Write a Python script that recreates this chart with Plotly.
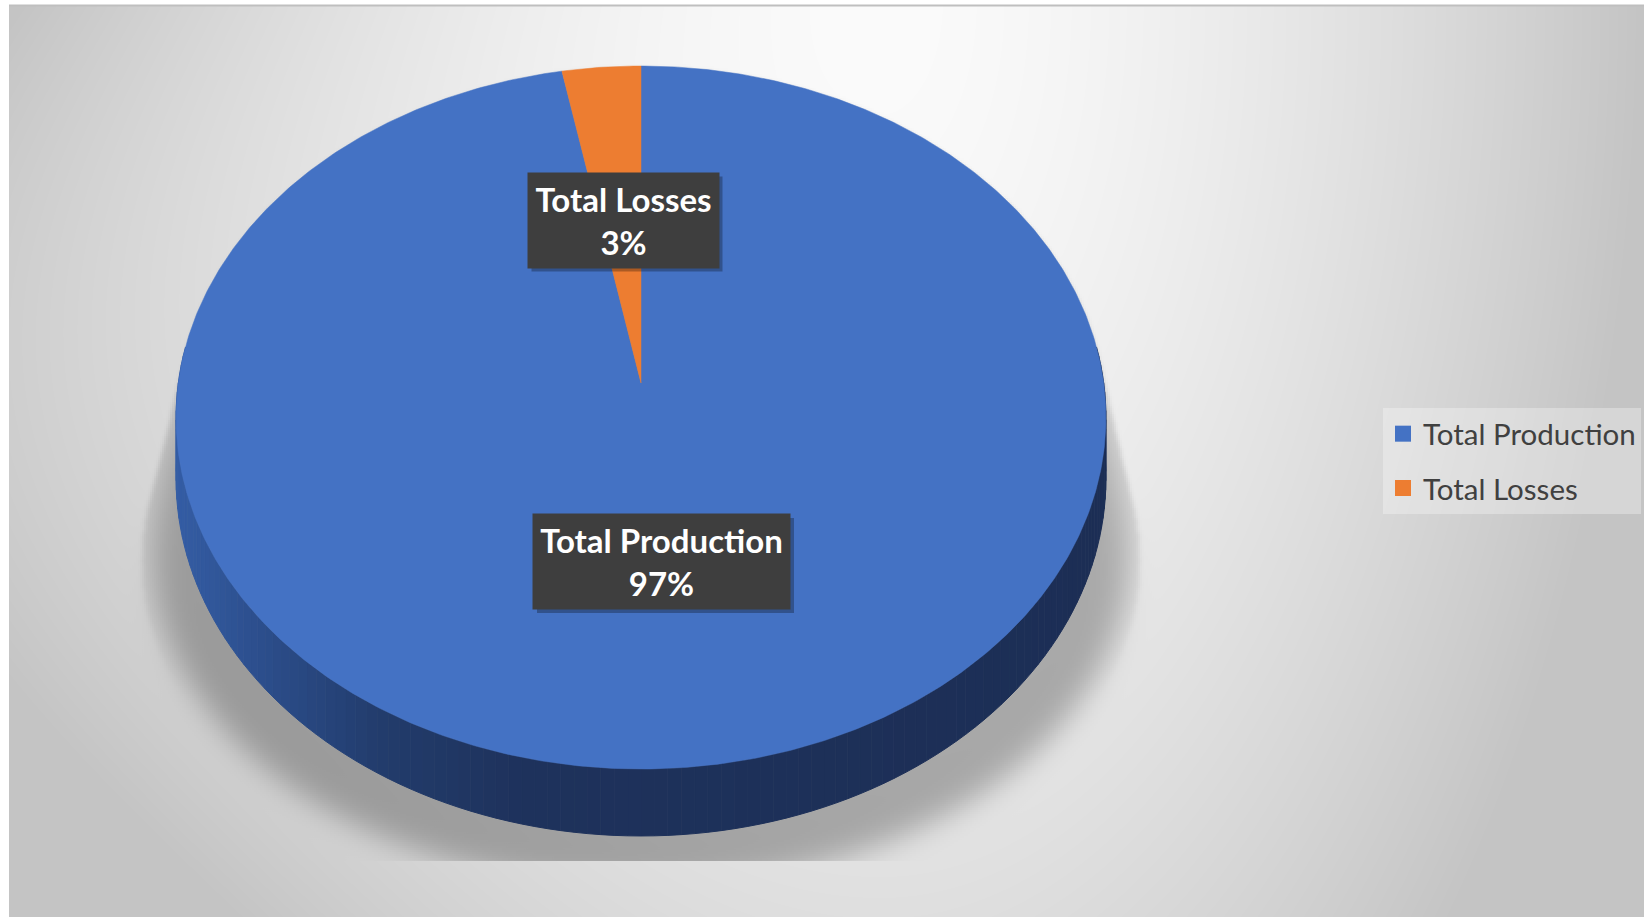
import base64
import struct
import zlib

import numpy as np
import plotly.graph_objects as go

# ---- data -------------------------------------------------------------
categories = ["Total Production", "Total Losses"]
shares = [97, 3]                       # percent of the total
slice_colors = ["#4472C4", "#ED7D31"]

W, H = 1644, 917

# ---- 3-D pie geometry (pixel space) ------------------------------------
X0, Y0 = 641.0, 383.0        # projected pie centre (apex of wedges)
A, B, P = 348.1, 462.7, 0.0982   # vertical / horizontal radius, perspective
D0 = 60.4                    # thickness of the pie


def proj(phi_deg, r=1.0, drop=0.0):
    """Project a point on the tilted disc; phi measured clockwise from 12 o'clock."""
    phi = np.radians(phi_deg)
    u, v = r * np.sin(phi), r * np.cos(phi)
    s = 1.0 / (1.0 + P * v)
    return X0 + B * u * s, Y0 - A * v * s + drop * D0 * s


# ---- background: soft gradient plus cast shadow -----------------------
def box(a, r, axis):
    pad = [(r + 1, r) if k == axis else (0, 0) for k in range(2)]
    c = np.cumsum(np.pad(a, pad, mode="edge"), axis=axis)
    if axis == 0:
        return (c[2 * r + 1:] - c[:-2 * r - 1]) / (2 * r + 1)
    return (c[:, 2 * r + 1:] - c[:, :-2 * r - 1]) / (2 * r + 1)


def blur(a, r, passes):
    for _ in range(passes):
        a = box(box(a, r, 0), r, 1)
    return a


def background():
    yy, xx = np.mgrid[0:H, 0:W].astype(float)
    fx = 880.0
    sx_left = 860.0 + 200.0 * np.sin(np.pi * np.clip(yy / H, 0, 1))
    sx = np.where(xx < fx, sx_left, 764.0)
    t = np.sqrt(((xx - fx) / sx) ** 2 + (yy / 1400.0) ** 2)
    g = 251.0 - 55.0 * np.clip(t, 0, 1) ** 1.6

    # shadow mask on a half-resolution grid
    f = 2
    gy, gx = np.mgrid[0:H:f, 0:W:f].astype(float)
    ang = np.linspace(0, 360, 181)
    pts = [np.column_stack(proj(ang)), np.column_stack(proj(ang, drop=1.0))]
    th = np.radians(ang)
    pts.append(np.column_stack([640 + 500 * np.cos(th), 560 + 340 * np.sin(th)]))
    pts = sorted(map(tuple, np.vstack(pts)))

    def cross(o, a, b):
        return (a[0] - o[0]) * (b[1] - o[1]) - (a[1] - o[1]) * (b[0] - o[0])

    lower, upper = [], []
    for p in pts:
        while len(lower) >= 2 and cross(lower[-2], lower[-1], p) <= 0:
            lower.pop()
        lower.append(p)
    for p in reversed(pts):
        while len(upper) >= 2 and cross(upper[-2], upper[-1], p) <= 0:
            upper.pop()
        upper.append(p)
    hull = lower[:-1] + upper[:-1]
    mask = np.ones_like(gx, dtype=bool)
    for i in range(len(hull)):
        (ax, ay), (bx, by) = hull[i], hull[(i + 1) % len(hull)]
        mask &= ((bx - ax) * (gy - ay) - (by - ay) * (gx - ax)) >= 0
    m = mask.astype(float)

    soft = blur(m, 9, 3)
    hard = blur(m, 1, 2)
    # crisp straight flanks higher up, softer edge around the lower curve
    w = np.clip((gy - 470.0) / 230.0, 0, 1)
    edge = (1 - w) * hard + w * soft
    m = soft * edge
    m = np.repeat(np.repeat(m, f, 0), f, 1)[:H, :W]
    m[yy > 860] = 0.0
    g = g * (1.0 - 0.27 * m ** 1.3)
    return np.clip(g, 0, 255).astype(np.uint8)


def png_uri(img):
    h, w = img.shape
    raw = b"".join(b"\x00" + img[i].tobytes() for i in range(h))

    def chunk(tag, data):
        return (struct.pack(">I", len(data)) + tag + data
                + struct.pack(">I", zlib.crc32(tag + data) & 0xFFFFFFFF))

    png = (b"\x89PNG\r\n\x1a\n"
           + chunk(b"IHDR", struct.pack(">IIBBBBB", w, h, 8, 0, 0, 0, 0))
           + chunk(b"IDAT", zlib.compress(raw, 9))
           + chunk(b"IEND", b""))
    return "data:image/png;base64," + base64.b64encode(png).decode()


bg = background()[6:, 9:]

fig = go.Figure()

# ---- pie side wall (front half) with a left-to-right shade -------------
side_x = [176, 260, 380, 520, 1106]
side_r = [52, 44, 34, 30, 28]
side_g = [93, 78, 60, 50, 46]
side_b = [165, 140, 108, 92, 85]
edges = np.arange(84, 277, 1.5)
for a0, a1 in zip(edges[:-1], edges[1:]):
    xa, ya = proj(np.array([a0, a1]))
    xb, yb = proj(np.array([a1, a0]), drop=1.0)
    xm = float(np.mean(xa))
    col = "rgb(%d,%d,%d)" % (round(np.interp(xm, side_x, side_r)),
                             round(np.interp(xm, side_x, side_g)),
                             round(np.interp(xm, side_x, side_b)))
    fig.add_trace(go.Scatter(
        x=list(xa) + list(xb), y=list(ya) + list(yb), fill="toself",
        fillcolor=col, line=dict(color=col, width=1), mode="lines",
        hoverinfo="skip", showlegend=False))

# ---- top face slices ---------------------------------------------------
total = float(sum(shares))
start = 0.0
for name, val, col in zip(categories, shares, slice_colors):
    span = 360.0 * val / total
    ang = np.linspace(start, start + span, max(int(span * 2), 4))
    xs, ys = proj(ang)
    fig.add_trace(go.Scatter(
        x=[X0] + list(xs) + [X0], y=[Y0] + list(ys) + [Y0], fill="toself",
        fillcolor=col, line=dict(color=col, width=0.5), mode="lines",
        name=name, hoverinfo="skip", showlegend=False))
    start += span

# ---- legend entries ----------------------------------------------------
for name, col in zip(categories, slice_colors):
    fig.add_trace(go.Scatter(
        x=[None], y=[None], mode="markers", name=name, legendgroup=name,
        marker=dict(symbol="square", size=17, color=col)))

# ---- data labels -------------------------------------------------------
label_boxes = [(661.5, 561.5, 257, 95), (623, 220, 191, 95)]
for (cx, cy, bw, bh), name, val in zip(label_boxes, categories, shares):
    pct = 100.0 * val / total
    fig.add_shape(type="rect", x0=cx - bw / 2 + 4, x1=cx + bw / 2 + 4,
                  y0=cy - bh / 2 + 4, y1=cy + bh / 2 + 4,
                  fillcolor="rgba(0,0,0,0.28)", line=dict(width=0), layer="above")
    fig.add_annotation(
        x=cx, y=cy, xref="x", yref="y", showarrow=False,
        text=f"<b>{name}<br>{pct:.0f}%</b>",
        font=dict(family="Lato", size=33, color="white"),
        bgcolor="#3e3e3e", width=bw, height=bh, borderpad=0, align="center")

# top border line of the chart area
fig.add_shape(type="line", x0=9, x1=W, y0=5.5, y1=5.5,
              line=dict(color="#bfbfbf", width=2), layer="above")

fig.update_layout(
    width=W, height=H, margin=dict(l=0, r=0, t=0, b=0),
    paper_bgcolor="white", plot_bgcolor="rgba(0,0,0,0)",
    xaxis=dict(range=[0, W], visible=False, fixedrange=True),
    yaxis=dict(range=[H, 0], visible=False, fixedrange=True),
    images=[dict(source=png_uri(bg), xref="paper", yref="paper",
                 x=9 / W, y=1 - 6 / H, sizex=(W - 9) / W, sizey=(H - 6) / H,
                 xanchor="left", yanchor="top", sizing="stretch", layer="below")],
    legend=dict(x=1383 / W, y=1 - 408 / H, xanchor="left", yanchor="top",
                bgcolor="rgba(255,255,255,0.3)", tracegroupgap=13,
                font=dict(family="Lato", size=29.5, color="#404040")),
    showlegend=True,
)

fig.write_html("out.html")
